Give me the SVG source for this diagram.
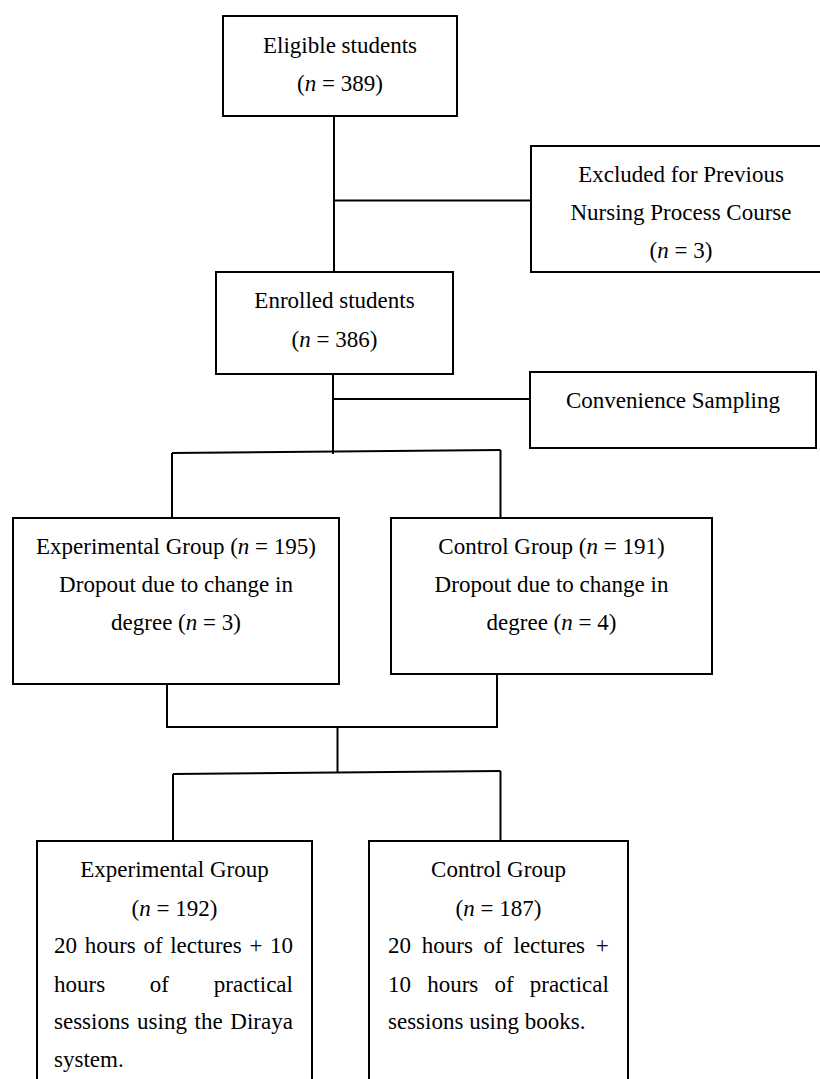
<svg xmlns="http://www.w3.org/2000/svg" width="820" height="1079" viewBox="0 0 820 1079">
<style>
.box{fill:#fff;stroke:#000;stroke-width:2}
.ln{fill:none;stroke:#000;stroke-width:2}
text{font-family:"Liberation Serif","Times New Roman",serif;font-size:23px;fill:#000}
.c{text-anchor:middle}
.i{font-style:italic}
</style>
<rect width="820" height="1079" fill="#fff"/>
<g id="connectors">
<path class="ln" d="M334,116 V272"/>
<path class="ln" d="M334,200.5 H531"/>
<path class="ln" d="M333,374 V454"/>
<path class="ln" d="M333,399 H530"/>
<path class="ln" d="M172,453 L500.5,450"/>
<path class="ln" d="M172,453 V518"/>
<path class="ln" d="M500.5,450 V518"/>
<path class="ln" d="M167,684 V727 H497 V674"/>
<path class="ln" d="M337.5,727 V773"/>
<path class="ln" d="M173,774 L500.5,771"/>
<path class="ln" d="M173,774 V841"/>
<path class="ln" d="M500.5,771 V841"/>
</g>
<g id="eligible">
<rect class="box" x="223" y="16" width="234" height="100"/>
<text class="c" x="340" y="53">Eligible students</text>
<text class="c" x="340" y="91">(<tspan class="i">n</tspan> = 389)</text>
</g>
<g id="excluded">
<rect class="box" x="531" y="146" width="301" height="126"/>
<text class="c" x="681" y="182">Excluded for Previous</text>
<text class="c" x="681" y="220">Nursing Process Course</text>
<text class="c" x="681" y="258">(<tspan class="i">n</tspan> = 3)</text>
</g>
<g id="enrolled">
<rect class="box" x="216" y="272" width="237" height="102"/>
<text class="c" x="334.5" y="308">Enrolled students</text>
<text class="c" x="334.5" y="347">(<tspan class="i">n</tspan> = 386)</text>
</g>
<g id="convenience">
<rect class="box" x="530" y="372" width="286" height="76"/>
<text class="c" x="673" y="408">Convenience Sampling</text>
</g>
<g id="exp1">
<rect class="box" x="13" y="518" width="326" height="166"/>
<text class="c" x="176" y="554">Experimental Group (<tspan class="i">n</tspan> = 195)</text>
<text class="c" x="176" y="592">Dropout due to change in</text>
<text class="c" x="176" y="630">degree (<tspan class="i">n</tspan> = 3)</text>
</g>
<g id="ctrl1">
<rect class="box" x="391" y="518" width="321" height="156"/>
<text class="c" x="551.5" y="554">Control Group (<tspan class="i">n</tspan> = 191)</text>
<text class="c" x="551.5" y="592">Dropout due to change in</text>
<text class="c" x="551.5" y="630">degree (<tspan class="i">n</tspan> = 4)</text>
</g>
<g id="exp2">
<rect class="box" x="37" y="841" width="275" height="260"/>
<text class="c" x="174.5" y="877">Experimental Group</text>
<text class="c" x="174.5" y="916">(<tspan class="i">n</tspan> = 192)</text>
<text x="54" y="953" word-spacing="1.9">20 hours of lectures + 10</text>
<text x="54" y="992" word-spacing="39">hours of practical</text>
<text x="54" y="1029" word-spacing="1.9">sessions using the Diraya</text>
<text x="54" y="1067">system.</text>
</g>
<g id="ctrl2">
<rect class="box" x="369" y="841" width="259" height="260"/>
<text class="c" x="498.5" y="877">Control Group</text>
<text class="c" x="498.5" y="916">(<tspan class="i">n</tspan> = 187)</text>
<text x="388" y="953" word-spacing="5">20 hours of lectures +</text>
<text x="388" y="992" word-spacing="10.4">10 hours of practical</text>
<text x="388" y="1029">sessions using books.</text>
</g>
</svg>
